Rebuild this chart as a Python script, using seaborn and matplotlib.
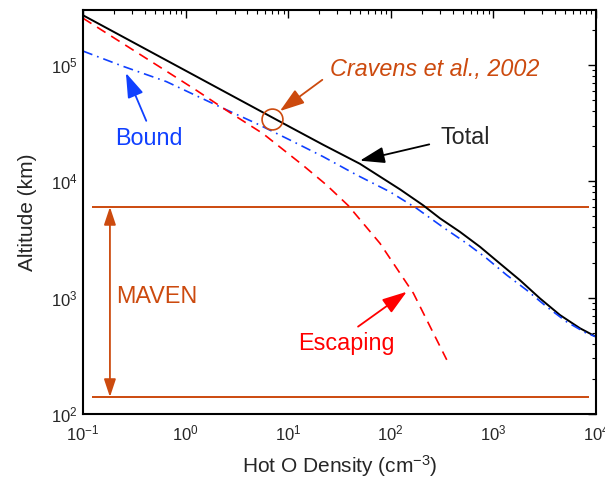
import numpy as np
import pandas as pd
import matplotlib
matplotlib.use("Agg")
import matplotlib.pyplot as plt
import seaborn as sns

# ---------------- data ----------------
total_density = [0.1, 10.4, 22, 50, 123, 207, 302, 472, 740, 1159, 1816, 2844, 4457, 6982, 1e4]
total_altitude = [2.66e5, 2.92e4, 2.05e4, 1.41e4, 8.5e3, 6.2e3, 4.79e3, 3.67e3, 2.73e3, 1.96e3,
                  1.41e3, 984, 708, 545, 461]

bound_density = [0.1, 0.245, 0.65, 2.0, 4.89, 10.8, 22, 46.5, 98, 179, 324, 550, 861, 1349,
                 2109, 3304, 5176, 8110, 1e4]
bound_altitude = [1.31e5, 9.7e4, 7.16e4, 4.49e4, 3.13e4, 2.22e4, 1.62e4, 1.13e4, 8.1e3,
                  5.83e3, 4.01e3, 2.92e3, 2.17e3, 1.56e3, 1.16e3, 834, 619, 493, 461]

escaping_density = [0.1, 0.245, 0.56, 1.27, 2.5, 5.68, 13.9, 23.7, 38.5, 78.5, 166, 351]
escaping_altitude = [2.51e5, 1.52e5, 9.57e4, 6.04e4, 4.06e4, 2.56e4, 1.37e4, 9.25e3,
                     6.17e3, 2.92e3, 1.09e3, 292]

maven_altitudes = [6000, 140]          # MAVEN altitude range (km)
maven_span = [0.122, 8500]             # x-extent of the MAVEN lines
maven_arrow_x = 0.183
cravens_point = ([6.9], [3.4e4])       # Cravens et al., 2002 marker

x_label = "Hot O Density (cm$^{-3}$)"
y_label = "Altitude (km)"

# ---------------- style ----------------
sns.set_theme(style="white")
plt.rcParams["font.family"] = ["Liberation Sans", "DejaVu Sans"]
plt.rcParams["mathtext.fontset"] = "custom"
plt.rcParams["mathtext.rm"] = "Liberation Sans"
plt.rcParams["mathtext.it"] = "Liberation Sans:italic"
plt.rcParams["mathtext.default"] = "regular"

ORANGE = "#cc4a0e"
BLUE = "#1040ff"
RED = "#ff0000"
TXT = "#262626"

df = pd.concat([
    pd.DataFrame({"density": total_density, "altitude": total_altitude, "series": "Total"}),
    pd.DataFrame({"density": bound_density, "altitude": bound_altitude, "series": "Bound"}),
    pd.DataFrame({"density": escaping_density, "altitude": escaping_altitude, "series": "Escaping"}),
], ignore_index=True)

fig = plt.figure(figsize=(6.05, 4.78), dpi=100)
ax = fig.add_axes([0.1372, 0.1339, 0.8479, 0.8451])
ax.set_xscale("log")
ax.set_yscale("log")

sns.lineplot(data=df, x="density", y="altitude", hue="series", style="series",
             palette={"Total": "black", "Bound": BLUE, "Escaping": RED},
             dashes={"Total": "", "Bound": (6, 3, 1, 3), "Escaping": (6, 4)},
             size="series", sizes={"Total": 1.4, "Bound": 1.2, "Escaping": 1.2},
             sort=False, estimator=None, legend=False, ax=ax)

ax.hlines(maven_altitudes, maven_span[0], maven_span[1], color=ORANGE, lw=1.4, zorder=1)
ax.plot(cravens_point[0], cravens_point[1], "o", mfc="none", mec=ORANGE, ms=15, mew=1.2)

ax.set_xlim(0.1, 1e4)
ax.set_ylim(100, 2.95e5)

# ticks, MATLAB-like
ax.tick_params(which="both", direction="in", top=True, right=True, colors="black",
               labelcolor=TXT, labelsize=12)
ax.tick_params(which="major", length=6, width=1.0)
ax.tick_params(which="minor", length=3, width=0.8)
ax.tick_params(axis="x", pad=7)
ax.tick_params(axis="y", pad=4)
ax.xaxis.set_minor_locator(matplotlib.ticker.LogLocator(base=10, subs=np.arange(2, 10)))
ax.yaxis.set_minor_locator(matplotlib.ticker.LogLocator(base=10, subs=np.arange(2, 10)))
for s in ax.spines.values():
    s.set_color("black")
    s.set_linewidth(1.5)

ax.set_xlabel(x_label, fontsize=15, color=TXT, labelpad=7)
ax.set_ylabel(y_label, fontsize=15, color=TXT, labelpad=10)

# annotations
fs = 16.8
ax.annotate("", xy=(maven_arrow_x, maven_altitudes[0]), xytext=(maven_arrow_x, maven_altitudes[1]),
            arrowprops=dict(arrowstyle="<|-|>,head_length=0.9,head_width=0.3", color=ORANGE,
                            lw=1.3, shrinkA=0, shrinkB=0))
ax.text(0.209, 1016, "MAVEN", color=ORANGE, fontsize=fs, va="center", ha="left")

ax.annotate("Cravens et al., 2002", xy=(8.3, 4.0e4), xytext=(25.6, 9.1e4),
            color=ORANGE, fontsize=fs, style="italic", va="center", ha="left",
            arrowprops=dict(arrowstyle="-|>,head_length=0.9,head_width=0.3", color=ORANGE,
                            lw=1.3, shrinkA=4, shrinkB=0, relpos=(0, 0.3)))

ax.annotate("Total", xy=(50, 1.5e4), xytext=(306, 2.39e4),
            color=TXT, fontsize=fs, va="center", ha="left",
            arrowprops=dict(arrowstyle="-|>,head_length=0.9,head_width=0.3", color="black",
                            lw=1.3, shrinkA=6, shrinkB=0, relpos=(0, 0.3)))

ax.annotate("Bound", xy=(0.262, 8.5e4), xytext=(0.205, 2.34e4),
            color=BLUE, fontsize=fs, va="center", ha="left",
            arrowprops=dict(arrowstyle="-|>,head_length=0.9,head_width=0.3", color=BLUE,
                            lw=1.3, shrinkA=2, shrinkB=0, relpos=(0.5, 1.0)))

ax.annotate("Escaping", xy=(143, 1122), xytext=(12.5, 407),
            color=RED, fontsize=fs, va="center", ha="left",
            arrowprops=dict(arrowstyle="-|>,head_length=0.9,head_width=0.3", color=RED,
                            lw=1.3, shrinkA=2, shrinkB=0, relpos=(0.55, 1.0)))

fig.savefig("out.png", dpi=100)
